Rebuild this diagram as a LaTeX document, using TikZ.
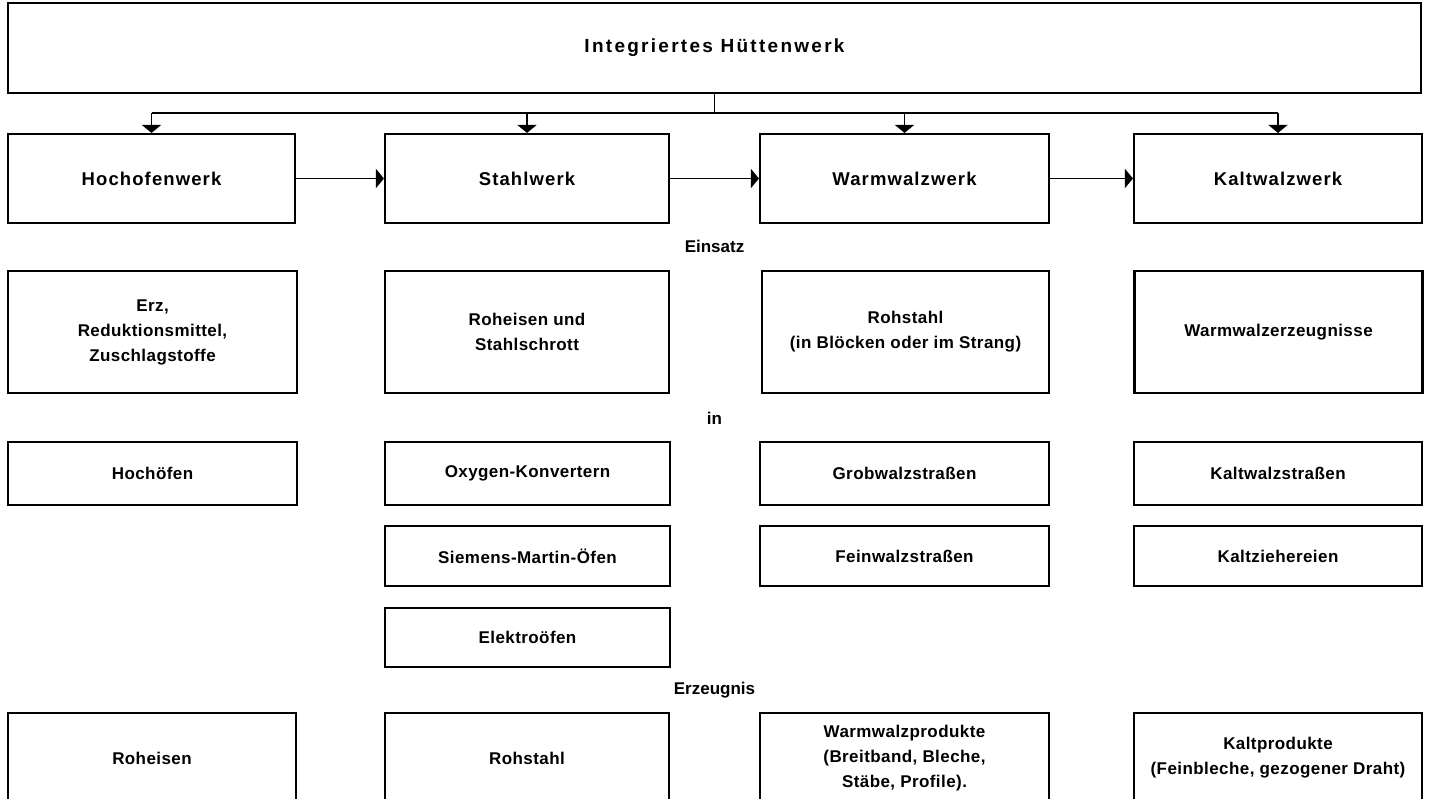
\documentclass[tikz,border=0pt]{standalone}
\usepackage{fontspec}
\setmainfont{Liberation Sans}
\usetikzlibrary{arrows.meta}
\newcommand\mytxtfont{\bfseries\fontsize{17}{25}\selectfont\addfontfeatures{LetterSpace=2.5}}
\newcommand\myhdfont{\bfseries\fontsize{18.5}{22}\selectfont\addfontfeatures{LetterSpace=6}}
\newcommand\myttlfont{\bfseries\fontsize{19}{23}\selectfont\addfontfeatures{LetterSpace=12}}
\newcommand\mylblfont{\bfseries\fontsize{17}{20}\selectfont}
\tikzset{
  box/.style={draw, line width=2.1pt, inner sep=0pt, align=center, font=\mytxtfont},
  hdbox/.style={box, font=\myhdfont},
  conn/.style={line width=1.3pt},
  arr/.style={-{Triangle[width=19pt,length=8pt]}},
  lbl/.style={font=\mylblfont, inner sep=0pt}
}
\begin{document}
\begin{tikzpicture}[x=1pt,y=-1pt]
\useasboundingbox (0,0) rectangle (1429,798);
% title
\node[box, font=\myttlfont, minimum width=1413pt, minimum height=90pt] (top) at (714.5,48) {Integriertes Hüttenwerk};
% row 1
\node[hdbox, minimum width=287pt, minimum height=89pt] (hoch)  at (151.5,178.5) {Hochofenwerk};
\node[hdbox, minimum width=284pt, minimum height=89pt] (stahl) at (527,178.5) {Stahlwerk};
\node[hdbox, minimum width=289pt, minimum height=89pt] (warm)  at (904.5,178.5) {Warmwalzwerk};
\node[hdbox, minimum width=288pt, minimum height=89pt] (kalt)  at (1278,178.5) {Kaltwalzwerk};
% connectors from title
\coordinate (bus) at (714.5,113);
\draw[conn] (top.south) -- (bus);
\draw[conn] (bus -| hoch.north) -- (bus -| kalt.north);
\foreach \n in {hoch,stahl,warm,kalt}
  \draw[conn,arr] (bus -| \n.north) -- (\n.north);
\draw[conn,arr] (hoch.east) -- (stahl.west);
\draw[conn,arr] (stahl.east) -- (warm.west);
\draw[conn,arr] (warm.east) -- (kalt.west);
% Einsatz
\node[lbl] (einsatz) at (714.5,246) {Einsatz};
\node[box, minimum width=289pt, minimum height=122pt] (erz)   at (152.5,332) {Erz,\\Reduktionsmittel,\\Zuschlagstoffe};
\node[box, minimum width=284pt, minimum height=122pt] (rohe)  at (527,332) {Roheisen und\\Stahlschrott};
\node[box, minimum width=287pt, minimum height=122pt] (rohs)  at (905.5,332) {Rohstahl\\(in Blöcken oder im Strang)};
\node[box, minimum width=288pt, minimum height=122pt] (wwe)   at (1278.5,332) {Warmwalzerzeugnisse};
% in
\node[lbl] (in) at (714.5,418) {in};
\node[box, minimum width=289pt, minimum height=63pt] (hoefen) at (152.5,473.5) {Hochöfen};
\node[box, minimum width=285pt, minimum height=63pt] (oxy)    at (527.5,473.5) {Oxygen-Konvertern};
\node[box, minimum width=289pt, minimum height=63pt] (grob)   at (904.5,473.5) {Grobwalzstraßen};
\node[box, minimum width=288pt, minimum height=63pt] (kws)    at (1278,473.5) {Kaltwalzstraßen};
\node[box, minimum width=285pt, minimum height=60pt] (siem)   at (527.5,556) {Siemens-Martin-Öfen};
\node[box, minimum width=289pt, minimum height=60pt] (fein)   at (904.5,556) {Feinwalzstraßen};
\node[box, minimum width=288pt, minimum height=60pt] (kzh)    at (1278,556) {Kaltziehereien};
\node[box, minimum width=285pt, minimum height=59pt] (elek)   at (527.5,637.5) {Elektroöfen};
% Erzeugnis
\node[lbl] (erzg) at (714.5,690) {Erzeugnis};
\node[box, minimum width=288pt, minimum height=90pt] (reisen) at (152,758) {Roheisen};
\node[box, minimum width=284pt, minimum height=90pt] (rstahl) at (527,758) {Rohstahl};
\node[box, minimum width=289pt, minimum height=90pt] (wwp)    at (904.5,758) {Warmwalzprodukte\\(Breitband, Bleche,\\Stäbe, Profile).};
\node[box, minimum width=288pt, minimum height=90pt] (kp)     at (1278,758) {Kaltprodukte\\(Feinbleche, gezogener Draht)};
\end{tikzpicture}
\end{document}
